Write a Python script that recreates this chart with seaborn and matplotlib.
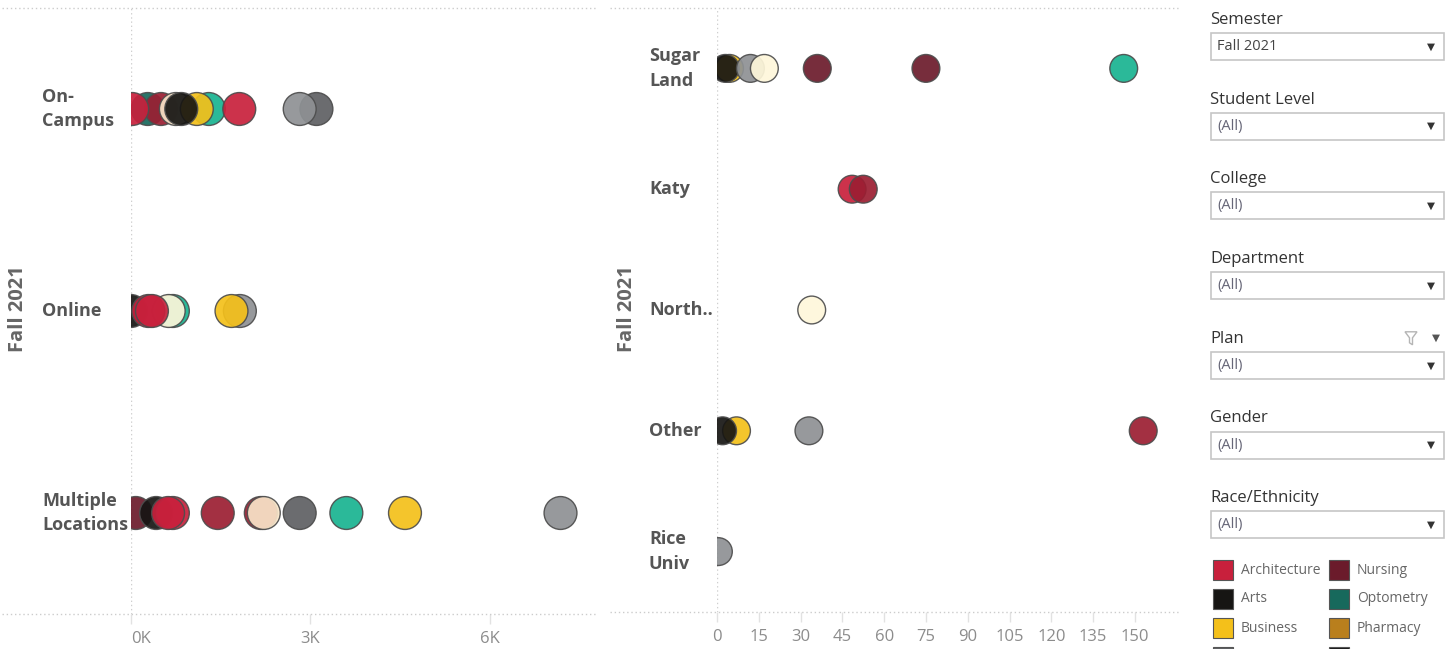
import matplotlib
matplotlib.use("Agg")
import matplotlib.pyplot as plt
from matplotlib.lines import Line2D
from matplotlib.patches import Rectangle, Polygon
import pandas as pd
import seaborn as sns

W, H = 1447, 649

# ---- data -------------------------------------------------------------
semester = "Fall 2021"

mode_rows = (["On-Campus"] * 10 + ["Online"] * 7
             + ["Multiple Locations"] * 11)
mode_colleges = [
    "Optometry", "Liberal Arts", "Hotel & Restaurant", "Natural Sciences",
    "Business", "Arts", "Architecture", "Architecture", "Education",
    "Engineering",
    "Arts", "Natural Sciences", "Honors", "Architecture", "Architecture",
    "Engineering", "Business",
    "Nursing", "Arts", "Architecture", "Architecture", "Liberal Arts",
    "Liberal Arts", "Hotel & Restaurant", "Education", "Natural Sciences",
    "Business", "Engineering",
]
mode_counts = [
    280, 500, 750, 1300, 1100, 840, 20, 1810, 3100, 2820,
    0, 700, 630, 290, 350, 1820, 1680,
    80, 420, 700, 620, 1450, 2170, 2220, 2820, 3600, 4580, 7180,
]
mode_labels = ["On-\nCampus", "Online", "Multiple\nLocations"]

site_rows = (["Sugar Land"] * 7 + ["Katy"] * 2 + ["North"]
             + ["Other"] * 4 + ["Rice Univ"])
site_colleges = [
    "Business", "Arts", "Engineering", "Honors", "Nursing", "Nursing",
    "Natural Sciences",
    "Architecture", "Liberal Arts",
    "Honors",
    "Business", "Arts", "Engineering", "Liberal Arts",
    "Engineering",
]
site_counts = [4.5, 3, 12, 17, 36, 75, 146,
               48.5, 52.5,
               34,
               7, 2, 33, 153,
               0.5]
site_labels = ["Sugar\nLand", "Katy", "North..", "Other", "Rice\nUniv"]

mode_ticks = [0, 3000, 6000]
mode_ticklabels = ["0K", "3K", "6K"]
site_ticks = list(range(0, 151, 15))

filter_titles = ["Semester", "Student Level", "College", "Department",
                 "Plan", "Gender", "Race/Ethnicity"]
filter_values = ["Fall 2021", "(All)", "(All)", "(All)", "(All)", "(All)",
                 "(All)"]

legend_names = ["Architecture", "Arts", "Business", "Education",
                "Nursing", "Optometry", "Pharmacy", "Social Work"]

palette = {
    "Architecture": "#C8203C",
    "Arts": "#161513",
    "Business": "#F4C01A",
    "Education": "#5E6063",
    "Nursing": "#6B1B2B",
    "Optometry": "#17695C",
    "Pharmacy": "#B97F1D",
    "Social Work": "#1C1C1C",
    "Engineering": "#8E9194",
    "Hotel & Restaurant": "#F8E4C8",
    "Honors": "#FEF7DA",
    "Liberal Arts": "#9B1E32",
    "Natural Sciences": "#19B391",
}

# ---- style ------------------------------------------------------------
sns.set_theme(style="white")
plt.rcParams["font.family"] = ["Open Sans", "DejaVu Sans"]

fig = plt.figure(figsize=(W / 100, H / 100), dpi=100)


def px_axes(x0, y0, x1, y1):
    return fig.add_axes([x0 / W, 1 - y1 / H, (x1 - x0) / W, (y1 - y0) / H])


def fig_line(x0, x1, y0, y1, **kw):
    fig.add_artist(Line2D([x0 / W, x1 / W], [1 - y0 / H, 1 - y1 / H],
                          transform=fig.transFigure, **kw))


def draw_panel(ax, rows, colleges, counts, labels, size, xmax, ticks,
               ticklabels, x0, x1, label_px, panel_x0, bottom_px):
    df = pd.DataFrame({"row": rows, "college": colleges, "count": counts})
    n = len(dict.fromkeys(rows))
    ax.axvline(0, color="#cfcfcf", lw=1, ls=(0, (1, 2)), zorder=0)
    sns.scatterplot(data=df, x="count", y="row", hue="college",
                    palette=palette, s=size, alpha=0.92,
                    edgecolor="#4d4d4d", linewidth=1, legend=False, ax=ax)
    ax.set_xlim(0, xmax)
    ax.set_ylim(n - 0.5, -0.5)
    ax.set_xlabel("")
    ax.set_ylabel("")
    ax.set_yticks([])
    ax.set_xticks(ticks)
    ax.set_xticklabels(ticklabels)
    ax.tick_params(axis="x", bottom=True, length=7, width=1,
                   color="#e2e2e2", labelcolor="#8c8c8c", labelsize=12,
                   pad=5)
    for sp in ax.spines.values():
        sp.set_visible(False)
    ax.set_facecolor("none")
    lx = (label_px - x0) / (x1 - x0)
    for i, lab in enumerate(labels):
        ax.text(lx, i, lab, transform=ax.get_yaxis_transform(),
                ha="left", va="center", fontsize=13, fontweight="bold",
                color="#555555", linespacing=1.45)
    fig_line(panel_x0, x1, 8, 8, color="#cccccc", lw=1, ls=(0, (1, 2)))
    fig_line(panel_x0, x1, bottom_px, bottom_px, color="#cccccc", lw=1,
             ls=(0, (1, 2)))


ax_l = px_axes(131, 8, 597, 614)
draw_panel(ax_l, mode_rows, mode_colleges, mode_counts, mode_labels,
           size=560, xmax=7790, ticks=mode_ticks,
           ticklabels=mode_ticklabels, x0=131, x1=597, label_px=42,
           panel_x0=2, bottom_px=614)
ax_l.get_xticklabels()[0].set_horizontalalignment("left")

ax_r = px_axes(717, 8, 1180, 612)
draw_panel(ax_r, site_rows, site_colleges, site_counts, site_labels,
           size=400, xmax=166.2, ticks=site_ticks,
           ticklabels=[str(t) for t in site_ticks], x0=717, x1=1180,
           label_px=649, panel_x0=610, bottom_px=612)

for xc in (18, 627):
    fig.text(xc / W, 1 - 309 / H, semester, rotation=90, ha="center",
             va="center", fontsize=14.5, fontweight="bold",
             color="#666666")

# ---- filter cards -----------------------------------------------------
step = 79.7
for i, (title, value) in enumerate(zip(filter_titles, filter_values)):
    ty = 20 + i * step
    by = 33 + i * step
    fig.text(1210 / W, 1 - ty / H, title, ha="left", va="center",
             fontsize=12, color="#333333")
    fig.add_artist(Rectangle((1211 / W, 1 - (by + 27) / H), 233 / W,
                             27 / H, transform=fig.transFigure,
                             facecolor="white", edgecolor="#c6c6c6",
                             lw=1.2))
    fig.text(1217 / W, 1 - (by + 13.5) / H, value, ha="left",
             va="center", fontsize=10.5,
             color="#444444" if value != "(All)" else "#666677")
    fig.text(1431 / W, 1 - (by + 14) / H, "▼", ha="center", va="center",
             fontsize=7.5, color="#333333")
    if title == "Plan":
        fun = [(1405, ty - 7), (1417, ty - 7), (1412.5, ty - 1),
               (1412.5, ty + 6), (1409.5, ty + 4), (1409.5, ty - 1)]
        fig.add_artist(Polygon([(x / W, 1 - y / H) for x, y in fun],
                               closed=True, fill=False,
                               edgecolor="#b5b5b5", lw=1,
                               transform=fig.transFigure))
        fig.text(1436 / W, 1 - (ty - 1) / H, "▼", ha="center",
                 va="center", fontsize=7.5, color="#555555")

# ---- colour legend (bottom row is cut by the view edge) ---------------
for i, name in enumerate(legend_names):
    col, row = divmod(i, 4)
    bx = 1213 + col * 116
    cy = 570 + row * 29
    fig.add_artist(Rectangle((bx / W, 1 - (cy + 10) / H), 20 / W, 20 / H,
                             transform=fig.transFigure,
                             facecolor=palette[name], edgecolor="#555555",
                             lw=0.8))
    if cy + 8 < H:
        fig.text((bx + 28) / W, 1 - cy / H, name, ha="left", va="center",
                 fontsize=10, color="#666666")

fig.savefig("out.png", dpi=100)
